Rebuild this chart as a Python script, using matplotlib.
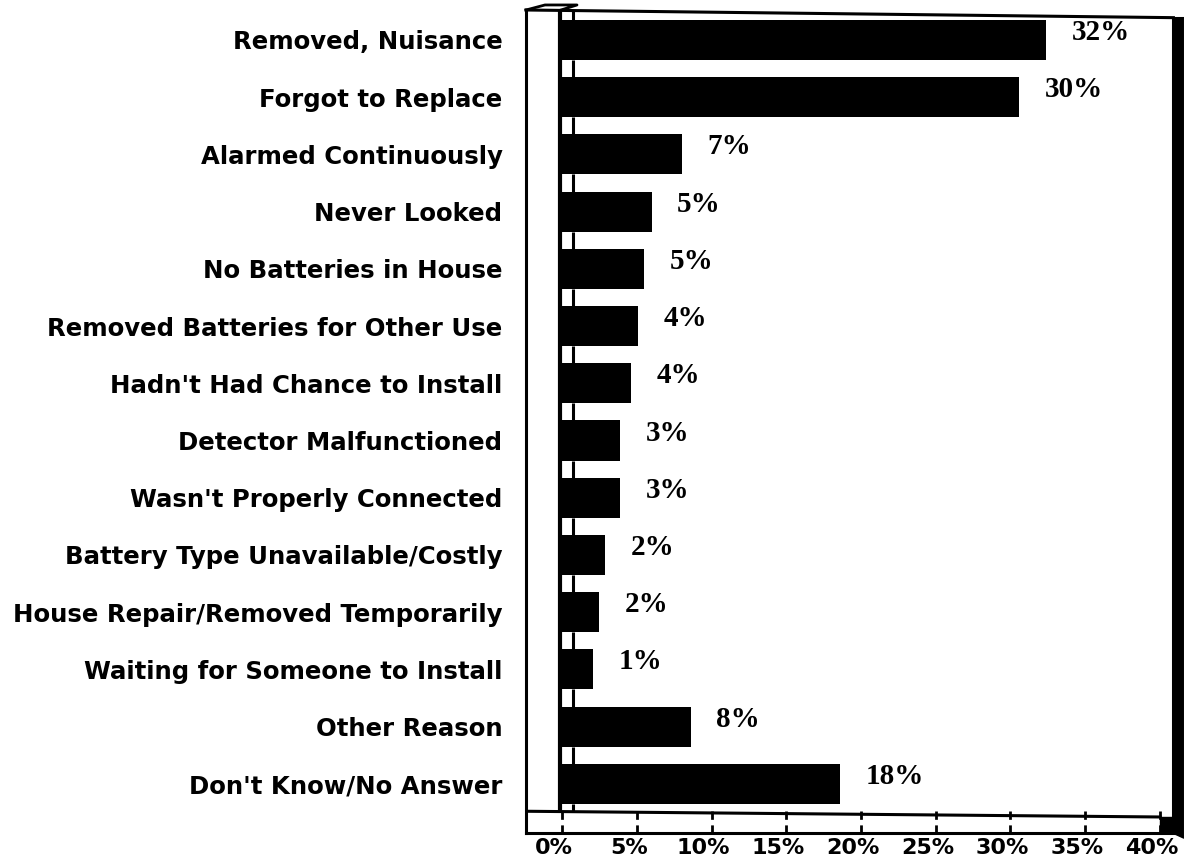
import matplotlib
matplotlib.use("Agg")
import matplotlib.pyplot as plt
import matplotlib.transforms as mtransforms
from matplotlib.patches import Polygon

reasons = ["Removed, Nuisance", "Forgot to Replace", "Alarmed Continuously",
           "Never Looked", "No Batteries in House", "Removed Batteries for Other Use",
           "Hadn't Had Chance to Install", "Detector Malfunctioned",
           "Wasn't Properly Connected", "Battery Type Unavailable/Costly",
           "House Repair/Removed Temporarily", "Waiting for Someone to Install",
           "Other Reason", "Don't Know/No Answer"]
# bar lengths as drawn (percent)
bar_len = [32.4, 30.6, 8.0, 6.0, 5.5, 5.1, 4.6, 3.9, 3.9, 2.9, 2.5, 2.1, 8.6, 18.6]
value_labels = ["32%", "30%", "7%", "5%", "5%", "4%", "4%", "3%", "3%", "2%",
                "2%", "1%", "8%", "18%"]
xticks = [0, 5, 10, 15, 20, 25, 30, 35, 40]
xtick_labels = ["0%", "5%", "10%", "15%", "20%", "25%", "30%", "35%", "40%"]

W, H = 1184, 866
fig = plt.figure(figsize=(W / 100, H / 100), dpi=100)
ax = fig.add_axes([526 / W, 1 - 833 / H, (1177 - 526) / W, (833 - 10) / H])

rows = list(range(len(reasons)))
ax.barh(rows, bar_len, height=0.7, color="black", left=0)

ax.set_xlim(-2.41, 41.14)
ax.set_ylim(13.86, -0.524)

for i, (v, lab) in enumerate(zip(bar_len, value_labels)):
    ax.text(v + 1.7, i - 0.13, lab, ha="left", va="center", fontsize=21,
            family="Liberation Serif", fontweight="bold")

ax.set_yticks(rows, reasons)
ax.tick_params(axis="y", length=0, pad=17)
for t in ax.get_yticklabels():
    t.set_fontsize(17.6)
    t.set_fontweight("bold")

# x tick labels sit a little left of their ticks, like in the scan
ax.set_xticks([])
lab_tr = mtransforms.blended_transform_factory(ax.transData, ax.transAxes) + \
    mtransforms.ScaledTranslation(-8 / 100, -5 / 100, fig.dpi_scale_trans)
for x, lab in zip(xticks, xtick_labels):
    ax.text(x, 0, lab, transform=lab_tr, ha="center", va="top",
            fontsize=16, fontweight="bold")

for s in ["left", "bottom"]:
    ax.spines[s].set_linewidth(2.2)
ax.spines["right"].set_visible(False)
ax.spines["top"].set_visible(False)

# top edge, slightly sloping, and the small cap on the side wall
ax.plot([-2.41, 40.9], [-0.524, -0.39], color="black", lw=2.2, clip_on=False)
ax.plot([-2.41, -1.14, 1.0, -0.07], [-0.524, -0.612, -0.612, -0.524],
        color="black", lw=2, clip_on=False)

# left side wall
floor_y = 13.48
ax.plot([-0.15, -0.15], [-0.524, floor_y], color="black", lw=3, solid_capstyle="butt")
gaps = [(-0.524, -0.35)] + [(i + 0.35, i + 0.65) for i in range(len(reasons) - 1)] + [(13.35, floor_y)]
for y0, y1 in gaps:
    ax.plot([0.74, 0.74], [y0, y1], color="black", lw=2.2, solid_capstyle="butt")

# floor
ax.plot([-2.41, 40.0], [floor_y, 13.58], color="black", lw=2.2)
for x in xticks:
    ax.plot([x, x], [floor_y, 13.86], color="black", lw=2, ls=(0, (3, 2)))

# right wall
ax.add_patch(Polygon([[40.0, 13.58], [40.85, 13.58], [40.85, 13.86], [40.0, 13.86]],
                     closed=True, color="black", clip_on=False))
ax.add_patch(Polygon([[40.85, -0.39], [41.6, -0.39], [41.6, 13.95], [40.85, 13.86]],
                     closed=True, color="black", clip_on=False))

fig.savefig("out.png", dpi=100)
